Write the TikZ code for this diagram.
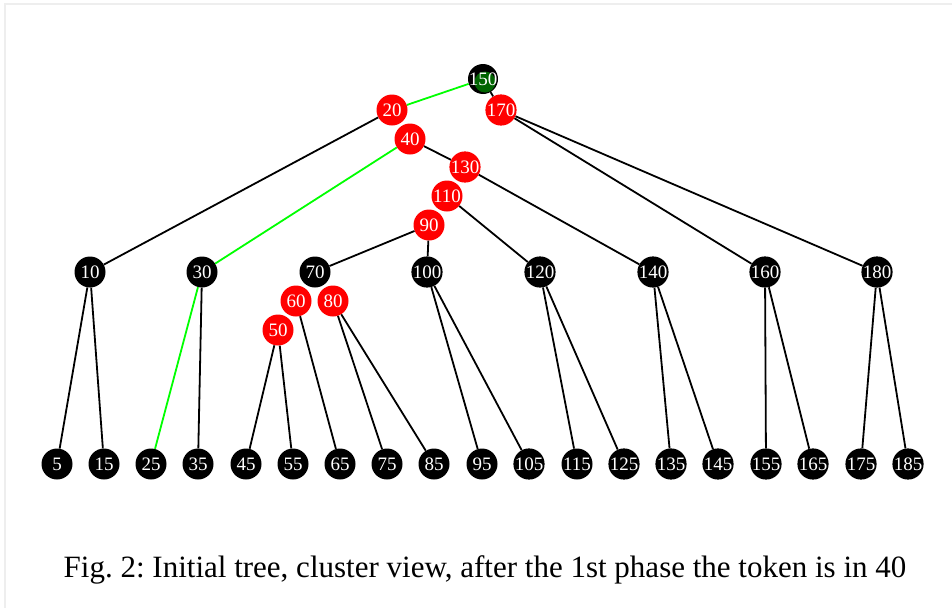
\documentclass[tikz,border=0pt]{standalone}
\usepackage{fontspec}
\setmainfont{Liberation Serif}
\frenchspacing
\definecolor{tokengreen}{RGB}{0,100,0}
\definecolor{framegray}{RGB}{238,238,238}
\tikzset{
  blk/.style={circle, fill=black, text=white, inner sep=0pt, minimum size=31pt,
    font=\fontsize{19}{19}\selectfont},
  rd/.style={blk, fill=red},
  edge/.style={line width=1.8pt, black},
  tok/.style={line width=1.8pt, green},
}
\begin{document}
\begin{tikzpicture}[x=1pt,y=-1pt]
                \useasboundingbox (0,0) rectangle (952,608);
                \draw[framegray, line width=2pt] (5,608) -- (5,4) -- (952,4);

                % leaves
                \node[blk] (l5)   at (57,464)  {5};
                \node[blk] (l15)  at (104,464) {15};
                \node[blk] (l25)  at (151,464) {25};
                \node[blk] (l35)  at (198,464) {35};
                \node[blk] (l45)  at (246,464) {45};
                \node[blk] (l55)  at (293,464) {55};
                \node[blk] (l65)  at (340,464) {65};
                \node[blk] (l75)  at (387,464) {75};
                \node[blk] (l85)  at (434,464) {85};
                \node[blk] (l95)  at (482,464) {95};
                \node[blk] (l105) at (529,464) {105};
                \node[blk] (l115) at (577,464) {115};
                \node[blk] (l125) at (624,464) {125};
                \node[blk] (l135) at (671,464) {135};
                \node[blk] (l145) at (718,464) {145};
                \node[blk] (l155) at (766,464) {155};
                \node[blk] (l165) at (813,464) {165};
                \node[blk] (l175) at (861,464) {175};
                \node[blk] (l185) at (908,464) {185};

                % middle row
                \node[blk] (m10)  at (90,272)  {10};
                \node[blk] (m30)  at (202,272) {30};
                \node[blk] (m70)  at (315,272) {70};
                \node[blk] (m100) at (427,272) {100};
                \node[blk] (m120) at (540,272) {120};
                \node[blk] (m140) at (653,272) {140};
                \node[blk] (m160) at (765,272) {160};
                \node[blk] (m180) at (877,272) {180};

                % cluster nodes
                \node[rd] (c50)  at (278,330) {50};
                \node[rd] (c60)  at (296,301) {60};
                \node[rd] (c80)  at (333,301) {80};
                \node[rd] (c90)  at (429,225) {90};
                \node[rd] (c110) at (447,196) {110};
                \node[rd] (c130) at (465,167) {130};
                \node[rd] (c20)  at (392,110) {20};
                \node[rd] (c40)  at (410,139) {40};
                \node[rd] (c170) at (501,110) {170};

                % root
                \node[blk, minimum size=30pt] (root) at (483,79) {};
                \fill[tokengreen] (485,82) circle (10.5pt);
                \node[blk, fill=none] at (root) {150};

                % edges
                \draw[tok] (root) -- (c20);
                \draw[edge] (root) -- (c170);
                \draw[edge] (c20) -- (m10);
                \draw[tok] (c40) -- (m30);
                \draw[edge] (c40) -- (c130);
                \draw[edge] (c130) -- (m140);
                \draw[edge] (c110) -- (m120);
                \draw[edge] (c90) -- (m70);
                \draw[edge] (c90) -- (m100);
                \draw[edge] (c170) -- (m160);
                \draw[edge] (c170) -- (m180);

                \draw[edge] (m10) -- (l5);
                \draw[edge] (m10) -- (l15);
                \draw[tok] (m30) -- (l25);
                \draw[edge] (m30) -- (l35);
                \draw[edge] (c50) -- (l45);
                \draw[edge] (c50) -- (l55);
                \draw[edge] (c60) -- (l65);
                \draw[edge] (c80) -- (l75);
                \draw[edge] (c80) -- (l85);
                \draw[edge] (m100) -- (l95);
                \draw[edge] (m100) -- (l105);
                \draw[edge] (m120) -- (l115);
                \draw[edge] (m120) -- (l125);
                \draw[edge] (m140) -- (l135);
                \draw[edge] (m140) -- (l145);
                \draw[edge] (m160) -- (l155);
                \draw[edge] (m160) -- (l165);
                \draw[edge] (m180) -- (l175);
                \draw[edge] (m180) -- (l185);

                \node[font=\fontsize{31}{31}\selectfont] (caption) at (485,570)
                  {Fig. 2: Initial tree, cluster view, after the 1st phase the token is in 40};
\end{tikzpicture}
\end{document}
